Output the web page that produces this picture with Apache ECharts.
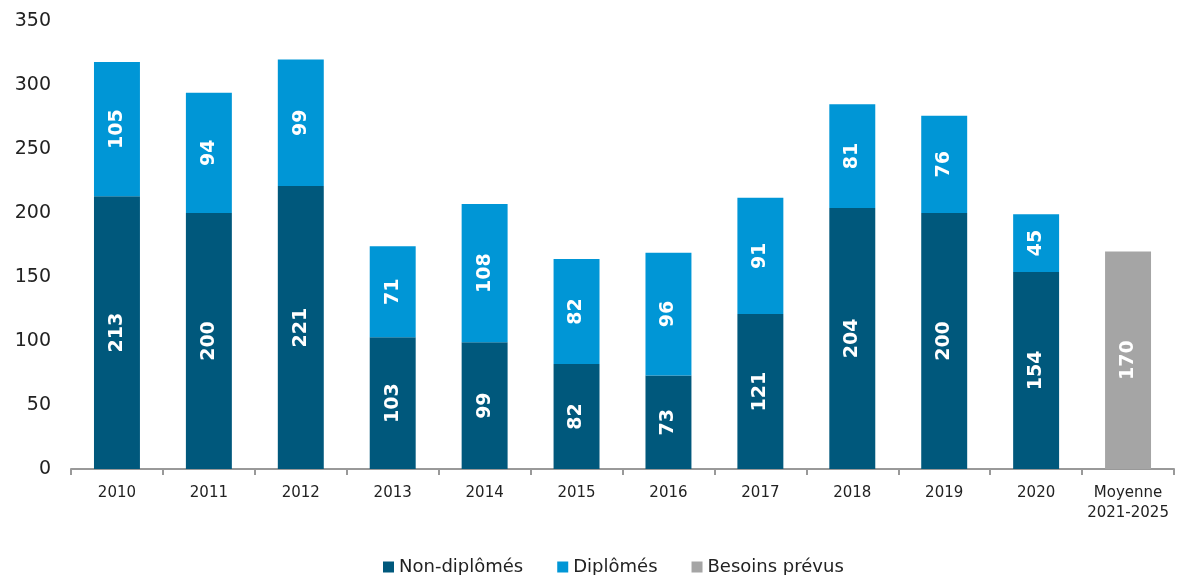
<!DOCTYPE html>
<html><head><meta charset="utf-8">
<script src="https://cdn.jsdelivr.net/npm/echarts@6/dist/echarts.min.js"></script>
<style>html,body{margin:0;padding:0;background:#fff}#c{width:1180px;height:575px}</style>
</head><body><div id="c"></div>
<script>
const categories = ['2010','2011','2012','2013','2014','2015','2016','2017','2018','2019','2020','Moyenne\n2021-2025'];
const nonDiplomes = [213,200,221,103,99,82,73,121,204,200,154,null];
const diplomes = [105,94,99,71,108,82,96,91,81,76,45,null];
const besoins = [null,null,null,null,null,null,null,null,null,null,null,170];
const yTicks = {min:0, max:350, interval:50};

const font = 'DejaVu Sans, Verdana, sans-serif';
const lbl = {show:true, position:'inside', rotate:90, color:'#fff', fontWeight:'bold', fontSize:19, fontFamily:font};
const chart = echarts.init(document.getElementById('c'));
chart.setOption({
  animation:false,
  grid:{left:71, right:6, top:21, bottom:106},
  legend:{left:378, top:553, itemWidth:11, itemHeight:11, itemGap:34, icon:'rect',
    textStyle:{fontSize:18, fontFamily:font, color:'#222'},
    data:['Non-diplômés','Diplômés','Besoins prévus']},
  xAxis:{type:'category', data:categories,
    axisLine:{lineStyle:{color:'#999', width:2}},
    axisTick:{show:true, length:6, lineStyle:{color:'#999', width:2}},
    axisLabel:{interval:0, fontSize:15, fontFamily:font, color:'#222', margin:14, lineHeight:20}},
  yAxis:{type:'value', min:yTicks.min, max:yTicks.max, interval:yTicks.interval,
    splitLine:{show:false}, axisLine:{show:false},
    axisLabel:{fontSize:19, fontFamily:font, color:'#222', margin:20}},
  series:[
    {name:'Non-diplômés', type:'bar', stack:'t', data:nonDiplomes, barWidth:'50%', itemStyle:{color:'#00587C'}, label:lbl},
    {name:'Diplômés', type:'bar', stack:'t', data:diplomes, itemStyle:{color:'#0096D6'}, label:lbl},
    {name:'Besoins prévus', type:'bar', stack:'t', data:besoins, itemStyle:{color:'#A5A5A5'}, label:lbl}
  ]
});
</script></body></html>
